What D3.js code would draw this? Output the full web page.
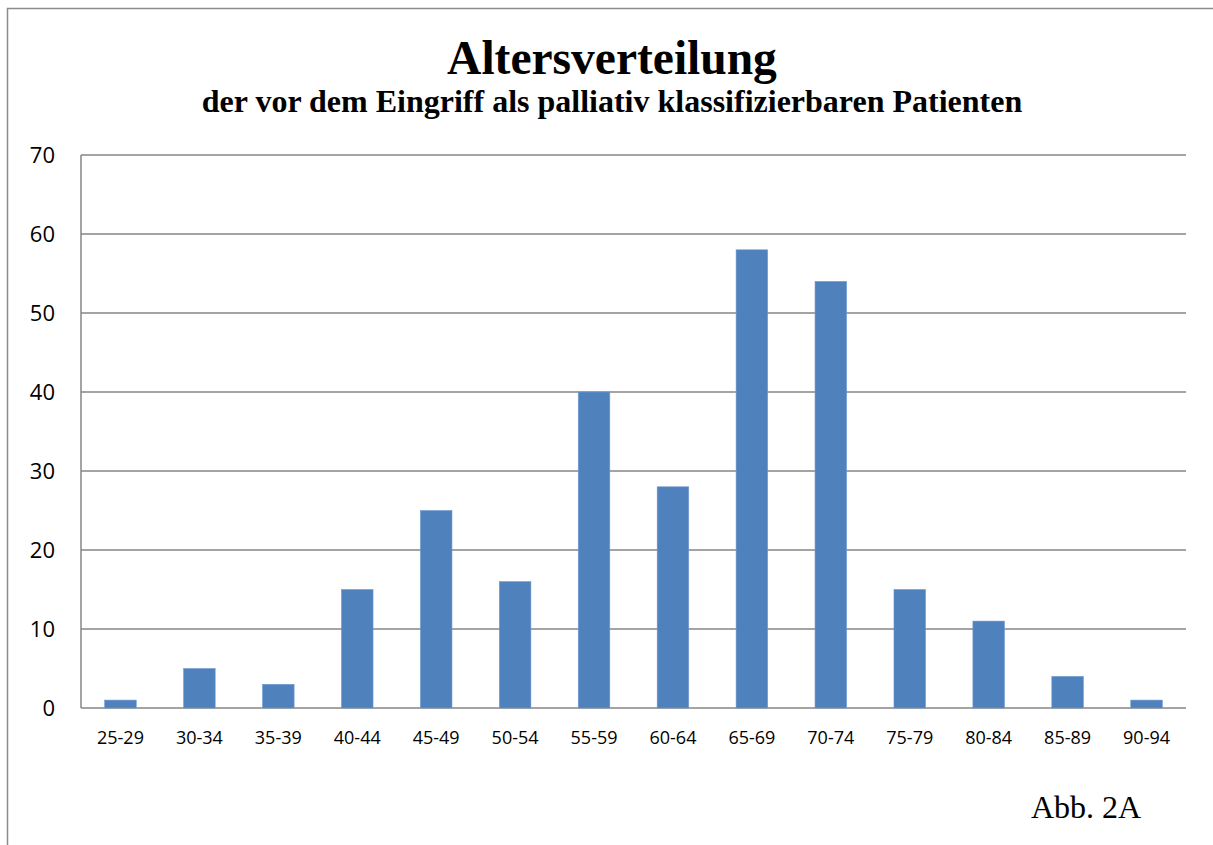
<!DOCTYPE html>
<html>
<head>
<meta charset="utf-8">
<script src="https://cdn.jsdelivr.net/npm/d3@7"></script>
<style>
  body { margin: 0; background: #fff; }
  svg { display: block; }
</style>
</head>
<body>
<svg id="chart" width="1213" height="845"></svg>
<script>
// age groups and patient counts
const ageGroups = ["25-29", "30-34", "35-39", "40-44", "45-49", "50-54", "55-59",
                   "60-64", "65-69", "70-74", "75-79", "80-84", "85-89", "90-94"];
const patientCounts = [1, 5, 3, 15, 25, 16, 40, 28, 58, 54, 15, 11, 4, 1];
const yTicks = [0, 10, 20, 30, 40, 50, 60, 70];

const svg = d3.select("#chart");

const plot = { left: 81, right: 1186, top: 155, bottom: 708 };

// outer frame (only left and top visible)
svg.append("path")
    .attr("d", "M7.5,845 L7.5,8.5 L1213,8.5")
    .attr("fill", "none")
    .attr("stroke", "#8c8c8c")
    .attr("stroke-width", 1.5);

// titles
svg.append("text")
    .attr("x", 612).attr("y", 74)
    .attr("text-anchor", "middle")
    .style("font-family", "'Liberation Serif', 'Times New Roman', serif")
    .style("font-weight", "bold")
    .style("font-size", "47.5px")
    .text("Altersverteilung");

svg.append("text")
    .attr("x", 612).attr("y", 112)
    .attr("text-anchor", "middle")
    .style("font-family", "'Liberation Serif', 'Times New Roman', serif")
    .style("font-weight", "bold")
    .style("font-size", "32px")
    .text("der vor dem Eingriff als palliativ klassifizierbaren Patienten");

// scales
const x = d3.scaleBand()
    .domain(ageGroups)
    .range([plot.left, plot.right])
    .paddingInner(0.6)
    .paddingOuter(0.3);

const y = d3.scaleLinear()
    .domain([0, 70])
    .range([plot.bottom, plot.top]);

// gridlines
svg.append("g")
    .selectAll("line")
    .data(yTicks)
    .join("line")
    .attr("x1", plot.left)
    .attr("x2", plot.right)
    .attr("y1", d => y(d))
    .attr("y2", d => y(d))
    .attr("stroke", "#868686")
    .attr("stroke-width", 1.5);

// y axis line
svg.append("line")
    .attr("x1", plot.left).attr("x2", plot.left)
    .attr("y1", plot.top).attr("y2", plot.bottom)
    .attr("stroke", "#868686")
    .attr("stroke-width", 1.5);

// y labels
svg.append("g")
    .selectAll("text")
    .data(yTicks)
    .join("text")
    .attr("x", 55)
    .attr("y", d => y(d))
    .attr("dy", "0.36em")
    .attr("text-anchor", "end")
    .style("font-family", "'Open Sans', 'DejaVu Sans', sans-serif")
    .style("font-size", "22px")
    .text(d => d);

// bars
svg.append("g")
    .selectAll("rect")
    .data(patientCounts)
    .join("rect")
    .attr("x", (d, i) => x(ageGroups[i]))
    .attr("width", x.bandwidth())
    .attr("y", d => y(d))
    .attr("height", d => y(0) - y(d))
    .attr("fill", "#4f81bd")
    .attr("stroke", "#6f9ad0")
    .attr("stroke-width", 0.6);

// x labels
svg.append("g")
    .selectAll("text")
    .data(ageGroups)
    .join("text")
    .attr("x", d => x(d) + x.bandwidth() / 2)
    .attr("y", 744)
    .attr("text-anchor", "middle")
    .style("font-family", "'Open Sans', 'DejaVu Sans', sans-serif")
    .style("font-size", "18px")
    .text(d => d);

// figure label
svg.append("text")
    .attr("x", 1086).attr("y", 818)
    .attr("text-anchor", "middle")
    .style("font-family", "'Liberation Serif', 'Times New Roman', serif")
    .style("font-size", "32px")
    .text("Abb. 2A");
</script>
</body>
</html>
